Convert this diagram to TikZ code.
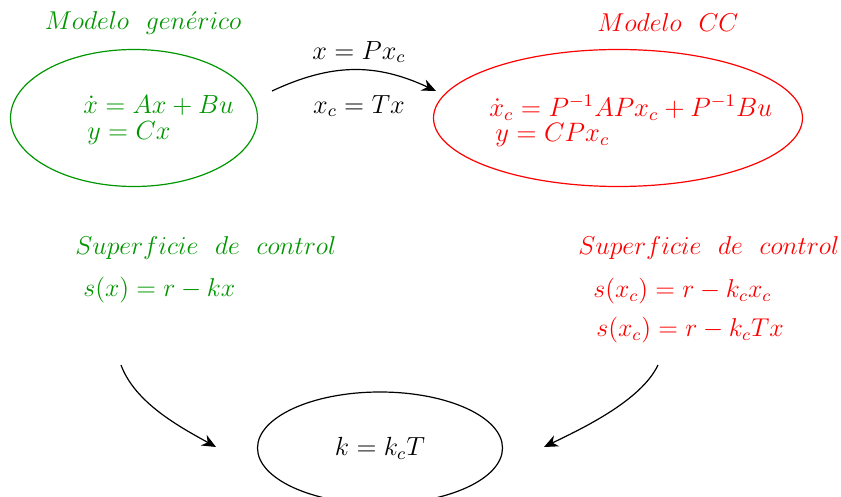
\documentclass[tikz,border=0pt]{standalone}
\usepackage{graphicx}
\usetikzlibrary{arrows.meta}
\definecolor{mygreen}{RGB}{0,150,0}
\definecolor{myred}{RGB}{255,0,0}
\newcommand{\smtxt}[1]{\scalebox{1.075}{#1}}
\newcommand{\bgtxt}[1]{\scalebox{1.095}{#1}}
\begin{document}
\begin{tikzpicture}[x=0.5pt,y=-0.5pt,
  txt/.style={inner sep=0pt,font=\fontsize{12}{14}\selectfont},
  arr/.style={-{Stealth[length=7pt,width=6pt]},line width=0.6pt}]
\useasboundingbox (0,0) rectangle (841,497);
% ellipses
\draw[mygreen,line width=0.6pt] (134,118) ellipse [x radius=123.5,y radius=68.5];
\draw[myred,line width=0.6pt] (618,118) ellipse [x radius=184.5,y radius=68.5];
\draw[line width=0.6pt] (380,448) ellipse [x radius=122.5,y radius=56];
% titles
\node[txt,mygreen] (t1) at (143,23) {\smtxt{$Modelo\ \ gen\acute{e}rico$}};
\node[txt,myred] (t2) at (668,23) {\smtxt{$Modelo\ \ CC$}};
% green model
\node[txt,mygreen,anchor=west] (g1) at (83,106) {\bgtxt{$\dot{x} = Ax + Bu$}};
\node[txt,mygreen,anchor=west] (g2) at (87,133) {\bgtxt{$y = Cx$}};
% red model
\node[txt,myred,anchor=west] (r1) at (489,108) {\scalebox{1.11}{$\dot{x}_c = P^{-1}APx_c + P^{-1}Bu$}};
\node[txt,myred,anchor=west] (r2) at (495,135) {\scalebox{1.11}{$y = CPx_c$}};
% transformation
\node[txt] (p1) at (359,52) {\bgtxt{$x = Px_c$}};
\node[txt] (p2) at (359,106) {\bgtxt{$x_c = Tx$}};
% surfaces
\node[txt,mygreen,anchor=west] (s1) at (75,248) {\smtxt{$Superficie\ \ de\ \ control$}};
\node[txt,mygreen,anchor=west] (s2) at (83,290) {\smtxt{$s(x) = r - kx$}};
\node[txt,myred,anchor=west] (s3) at (578,248) {\smtxt{$Superficie\ \ de\ \ control$}};
\node[txt,myred,anchor=west] (s4) at (593,291) {\smtxt{$s(x_c) = r - k_cx_c$}};
\node[txt,myred,anchor=west] (s5) at (596,330) {\smtxt{$s(x_c) = r - k_cTx$}};
\node[txt] (k) at (380,448) {\bgtxt{$k = k_cT$}};
% arrow endpoints
\coordinate (a1) at (272,91);
\coordinate (a2) at (436,91);
\coordinate (b1) at (121,365);
\coordinate (b2) at (216,447);
\coordinate (c1) at (658,365);
\coordinate (c2) at (544,447);
\draw[arr] (a1) .. controls (332,63) and (376,63) .. (a2);
\draw[arr] (b1) .. controls (135,403) and (180,427) .. (b2);
\draw[arr] (c1) .. controls (641,401) and (581,429) .. (c2);
\end{tikzpicture}
\end{document}
